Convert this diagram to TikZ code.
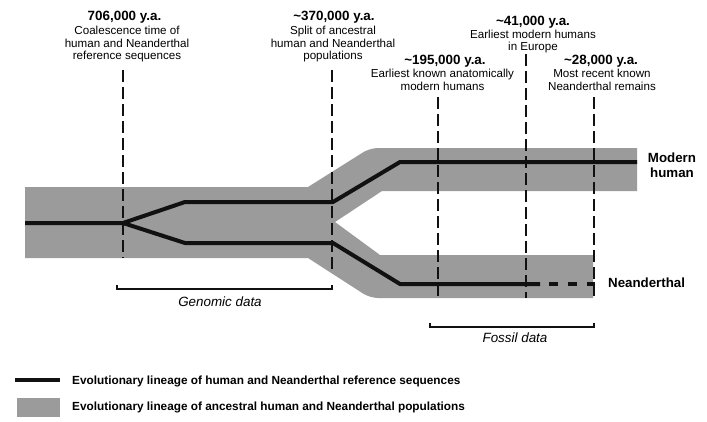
\documentclass[tikz,border=0pt]{standalone}
\usepackage{fontspec}
\setmainfont{Liberation Sans}
\usetikzlibrary{positioning}
\definecolor{evoGrey}{HTML}{9b9b9b}
\definecolor{evoInk}{HTML}{111111}
\tikzset{
  lineage/.style={draw=evoInk, line width=4pt, line join=round},
  band/.style={fill=evoGrey, draw=none},
  guide/.style={draw=evoInk, line width=1.4pt, dash pattern=on 12pt off 5pt},
  span/.style={draw=evoInk, line width=1.4pt},
  year/.style={font=\bfseries\fontsize{13.4}{15}\selectfont, inner sep=0pt, anchor=base},
  note/.style={font=\fontsize{11.6}{12.5}\selectfont, align=center, inner sep=0pt},
  datalbl/.style={font=\itshape\fontsize{13.4}{15}\selectfont, inner sep=0pt, anchor=base},
  taxon/.style={font=\bfseries\fontsize{13.3}{15}\selectfont, align=center, inner sep=0pt},
  legendlbl/.style={font=\bfseries\fontsize{11.8}{14}\selectfont, inner sep=0pt, anchor=base west},
}

\begin{document}
\begin{tikzpicture}[x=1pt, y=-1pt]
  \useasboundingbox (0,0) rectangle (707,421);
  % populations
  \fill[band] (25,187) -- (308,187) [rounded corners=8pt] -- (370,148) [sharp corners] -- (637,148)
      -- (637,191) -- (382,191) -- (335,222) -- (380,255) -- (593,255) -- (593,298)
      [rounded corners=8pt] -- (370,298) [sharp corners] -- (308,258) -- (25,258) -- cycle;

  % reference sequences
  \coordinate (root) at (25,223);
  \coordinate (coal) at (123,223);
  \coordinate (upA) at (185,202);
  \coordinate (upB) at (333,202);
  \coordinate (mhA) at (400,162);
  \coordinate (mhEnd) at (637,162);
  \coordinate (loA) at (185,243);
  \coordinate (loB) at (333,243);
  \coordinate (neA) at (400,284);
  \coordinate (neEnd) at (540,284);
  \coordinate (neLast) at (595,284);
  \draw[lineage] (root) -- (coal) -- (upA) -- (upB) -- (mhA) -- (mhEnd);
  \draw[lineage] (coal) -- (loA) -- (loB) -- (neA) -- (neEnd);
  \draw[lineage, line width=4.5pt, dash pattern=on 9pt off 10pt, dash phase=10pt] (neEnd) -- (neLast);

  % time marks
  \node[year] (t706) at (124.5,20.5) {706,000 y.a.};
  \node[note, below=2.5pt of t706, xshift=2.5pt] (d706) {Coalescence time of\\human and Neanderthal\\reference sequences};
  \node[year] (t370) at (334,20.5) {\char`~370,000 y.a.};
  \node[note, below=2.5pt of t370, xshift=-1pt] (d370) {Split of ancestral\\human and Neanderthal\\populations};
  \node[year] (t41) at (533,25) {\char`~41,000 y.a.};
  \node[note, below=1.5pt of t41] (d41) {Earliest modern humans\\in Europe};
  \node[year] (t195) at (445,64.5) {\char`~195,000 y.a.};
  \node[note, below=1.5pt of t195, xshift=-2.5pt] (d195) {Earliest known anatomically\\modern humans};
  \node[year] (t28) at (601,64.5) {\char`~28,000 y.a.};
  \node[note, below=1.5pt of t28, xshift=1pt] (d28) {Most recent known\\Neanderthal remains};

  \draw[guide] (123,70) -- (123,258);
  \draw[guide] (332,70) -- (332,273);
  \draw[guide] (438,97) -- (438,298);
  \draw[guide] (526,54) -- (526,298);
  \draw[guide] (594,97) -- (594,298);

  % data ranges
  \draw[span] (117,285) -- (117,289) -- (332,289) -- (332,285);
  \node[datalbl] (genomic) at (220,306) {Genomic data};
  \draw[span] (430,323) -- (430,327) -- (594,327) -- (594,323);
  \node[datalbl] (fossil) at (515,342) {Fossil data};

  \node[taxon] (modern) at (672,165) {Modern\\human};
  \node[taxon, anchor=base west] (neand) at (608,287) {Neanderthal};

  % legend
  \coordinate (keyA) at (15,380);
  \coordinate (keyB) at (60,380);
  \draw[lineage] (keyA) -- (keyB);
  \node[legendlbl] (keyline) at (72,384) {Evolutionary lineage of human and Neanderthal reference sequences};
  \fill[band] (17,398) rectangle (60,417);
  \node[legendlbl] (keyband) at (72,410) {Evolutionary lineage of ancestral human and Neanderthal populations};
\end{tikzpicture}
\end{document}
